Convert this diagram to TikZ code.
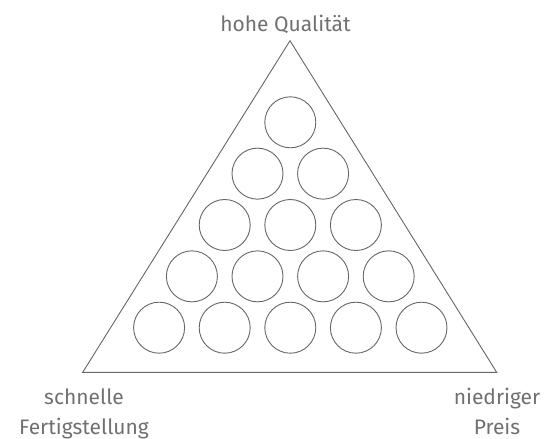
\documentclass[tikz,border=0pt]{standalone}
\usepackage{fontspec}
\setmainfont{Fira Sans}
\definecolor{linegray}{HTML}{666666}
\definecolor{textgray}{HTML}{707070}
\begin{document}
\begin{tikzpicture}[x=1pt,y=-1pt,
  ball/.style={circle,draw=linegray,line width=0.9pt,minimum size=51pt,inner sep=0pt},
  lbl/.style={text=textgray,font=\fontsize{21}{30}\selectfont,inner sep=0pt,align=center}]
\useasboundingbox (0,0) rectangle (552,439);
\coordinate (apex) at (290,40.7);
\coordinate (bl) at (82.7,372.3);
\coordinate (br) at (496.7,372.3);
\draw[linegray,line width=0.9pt,line join=miter] (apex) -- (br) -- (bl) -- cycle;
\foreach \r in {0,...,4}{
  \foreach \c in {0,...,\r}{
    \node[ball] (b\r\c) at ({290.3 - 32.8*\r + 65.6*\c},{122.3 + 51.35*\r}) {};
  }
}
\node[lbl,anchor=base] (top) at (285.5,31.7) {hohe Qualität};
\node[lbl,anchor=base] (left) at (84,434) {schnelle\\Fertigstellung};
\node[lbl,anchor=base] (right) at (497,434) {niedriger\\Preis};
\end{tikzpicture}
\end{document}
